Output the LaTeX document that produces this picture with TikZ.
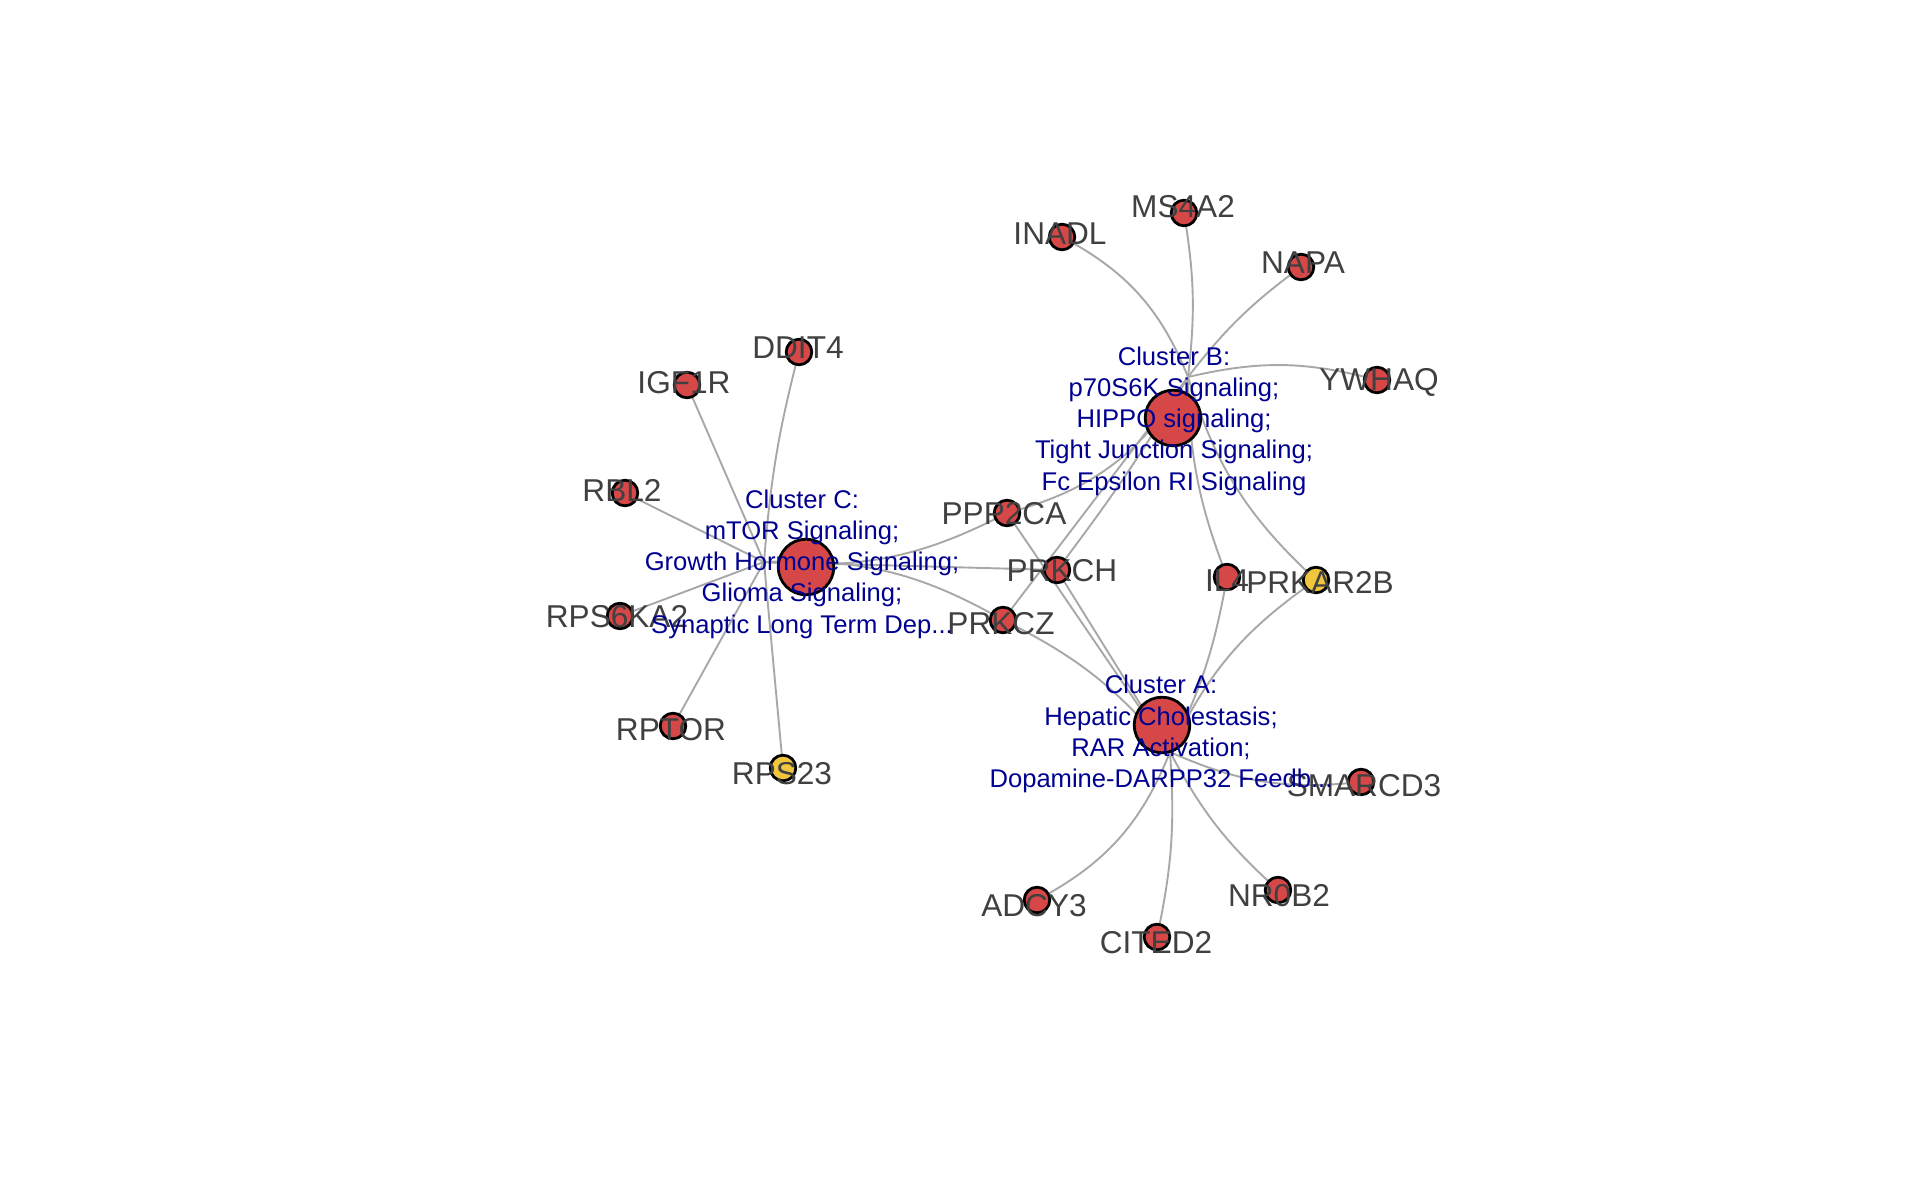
\documentclass[tikz,border=0pt]{standalone}
\usepackage{fontspec}
\setmainfont{Liberation Sans}
\usetikzlibrary{backgrounds}
\definecolor{nodered}{RGB}{214,72,72}
\definecolor{nodeyellow}{RGB}{240,198,62}
\definecolor{labelgray}{RGB}{64,64,64}
\definecolor{clusterblue}{RGB}{0,0,145}
\definecolor{edgegray}{RGB}{168,168,168}
\tikzset{
  genenode/.style={circle, draw=black, line width=1.4pt, fill=nodered, minimum size=12.8pt, inner sep=0pt},
  yellownode/.style={genenode, fill=nodeyellow},
  clusternode/.style={circle, draw=black, line width=1.4pt, fill=nodered, minimum size=27.8pt, inner sep=0pt},
  genelabel/.style={text=labelgray, font=\fontsize{15.8}{18}\selectfont, inner sep=0pt},
  clusterlabel/.style={text=clusterblue, font=\fontsize{12.8}{15.6}\selectfont, align=center, inner sep=0pt},
  edgeline/.style={draw=edgegray, line width=0.95pt},
}
\begin{document}
\begin{tikzpicture}[x=0.5pt, y=-0.5pt]
\useasboundingbox (0,0) rectangle (1920,1186);
% hub points
\coordinate (hubA) at (1170,752);
\coordinate (hubB) at (1188,377);
\coordinate (hubC) at (764,562);
% cluster circles
\node[clusternode] (CA) at (1162,725) {};
\node[clusternode] (CB) at (1173,418) {};
\node[clusternode] (CC) at (806,567) {};
% gene circles
\node[genenode] (INADL) at (1062,237) {};
\node[genenode] (MSFOURA) at (1184,213) {};
\node[genenode] (NAPA) at (1301,267) {};
\node[genenode] (YWHAQ) at (1377,380) {};
\node[genenode] (DDIT) at (799,352) {};
\node[genenode] (IGF) at (687,385) {};
\node[genenode] (RBL) at (625,493) {};
\node[genenode] (RPSSIX) at (620,616) {};
\node[genenode] (RPTOR) at (673,726) {};
\node[yellownode] (RPSTWO) at (783,768) {};
\node[genenode] (PPP) at (1007,513) {};
\node[genenode] (PRKCH) at (1057,570) {};
\node[genenode] (PRKCZ) at (1003,620) {};
\node[genenode] (ILFOUR) at (1227,577) {};
\node[yellownode] (PRKAR) at (1316,580) {};
\node[genenode] (SMARC) at (1361,782) {};
\node[genenode] (ADCY) at (1037,900) {};
\node[genenode] (CITED) at (1157,937) {};
\node[genenode] (NROB) at (1278,890) {};
% edges
\begin{scope}[on background layer]
\fill[white] (0,0) rectangle (1920,1186);
% cluster B
\draw[edgeline] (INADL.center) to[bend left=20] (hubB);
\draw[edgeline] (MSFOURA.center) to[bend left=8] (hubB);
\draw[edgeline] (NAPA.center) to[bend right=8] (hubB);
\draw[edgeline] (YWHAQ.center) to[bend right=14] (hubB);
\draw[edgeline] (PPP.center) to[bend right=22] (hubB);
\draw[edgeline] (PRKCH.center) to[bend right=3] (hubB);
\draw[edgeline] (PRKCZ.center) to (hubB);
\draw[edgeline] (ILFOUR.center) to[bend left=10] (hubB);
\draw[edgeline] (PRKAR.center) to[bend left=15] (hubB);
% cluster C
\draw[edgeline] (DDIT.center) to[bend right=5] (hubC);
\draw[edgeline] (IGF.center) to (hubC);
\draw[edgeline] (RBL.center) to (hubC);
\draw[edgeline] (RPSSIX.center) to (hubC);
\draw[edgeline] (RPTOR.center) to (hubC);
\draw[edgeline] (RPSTWO.center) to (hubC);
\draw[edgeline] (PPP.center) to[bend left=16] (hubC);
\draw[edgeline] (PRKCH.center) to (hubC);
\draw[edgeline] (PRKCZ.center) to[bend right=16] (hubC);
% cluster A
\draw[edgeline] (PRKCZ.center) to[bend left=12] (hubA);
\draw[edgeline] (PRKCH.center) to (hubA);
\draw[edgeline] (PPP.center) to (hubA);
\draw[edgeline] (ILFOUR.center) to[bend left=8] (hubA);
\draw[edgeline] (PRKAR.center) to[bend right=15] (hubA);
\draw[edgeline] (SMARC.center) to[bend left=15] (hubA);
\draw[edgeline] (ADCY.center) to[bend right=20] (hubA);
\draw[edgeline] (CITED.center) to[bend right=8] (hubA);
\draw[edgeline] (NROB.center) to[bend left=10] (hubA);
\end{scope}
% gene labels
\node[genelabel] (INADLl) at (1060,234) {INADL};
\node[genelabel] (MSFOURAl) at (1183,207) {MS4A2};
\node[genelabel] (NAPAl) at (1303,263) {NAPA};
\node[genelabel] (YWHAQl) at (1379,382) {YWHAQ};
\node[genelabel] (DDITl) at (798,348) {DDIT4};
\node[genelabel] (IGFl) at (684,383) {IGF1R};
\node[genelabel] (RBLl) at (622,490) {RBL2};
\node[genelabel] (RPSSIXl) at (617,617) {RPS6KA2};
\node[genelabel] (RPTORl) at (671,730) {RPTOR};
\node[genelabel] (RPSTWOl) at (782,774) {RPS23};
\node[genelabel] (PPPl) at (1004,514) {PPP2CA};
\node[genelabel] (PRKCHl) at (1062,571) {PRKCH};
\node[genelabel] (PRKCZl) at (1001,624) {PRKCZ};
\node[genelabel] (ILFOURl) at (1227,581) {IL4};
\node[genelabel] (PRKARl) at (1320,582) {PRKAR2B};
\node[genelabel] (SMARCl) at (1364,786) {SMARCD3};
\node[genelabel] (ADCYl) at (1034,906) {ADCY3};
\node[genelabel] (CITEDl) at (1156,943) {CITED2};
\node[genelabel] (NROBl) at (1279,896) {NR0B2};
% cluster labels
\node[clusterlabel] (CBl) at (1174,421) {Cluster B:\\p70S6K Signaling;\\HIPPO signaling;\\Tight Junction Signaling;\\Fc Epsilon RI Signaling};
\node[clusterlabel] (CCl) at (802,564) {Cluster C:\\mTOR Signaling;\\Growth Hormone Signaling;\\Glioma Signaling;\\Synaptic Long Term Dep...};
\node[clusterlabel] (CAl) at (1161,734) {Cluster A:\\Hepatic Cholestasis;\\RAR Activation;\\Dopamine-DARPP32 Feedb...};
\end{tikzpicture}
\end{document}
